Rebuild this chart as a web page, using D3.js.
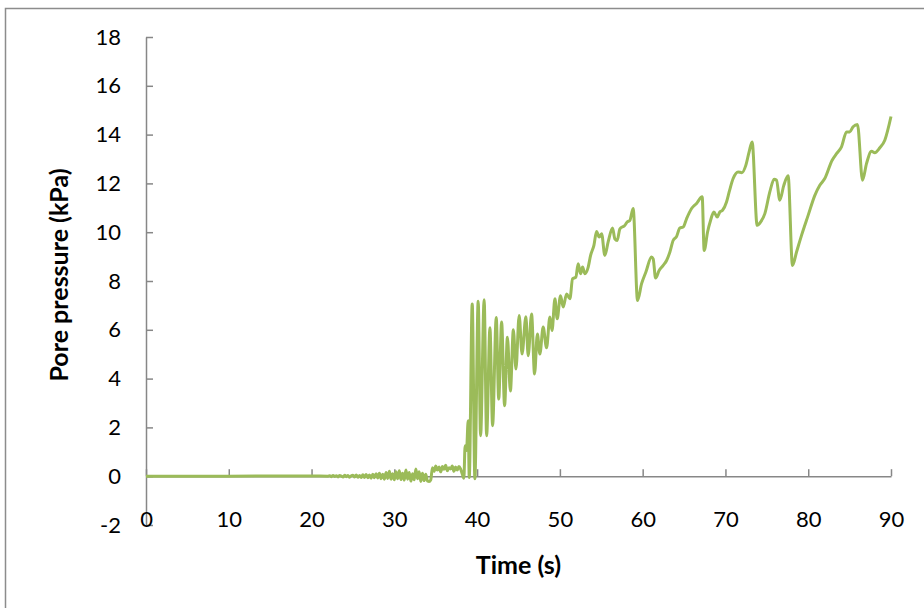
<!DOCTYPE html>
<html>
<head>
<meta charset="utf-8">
<script src="https://cdn.jsdelivr.net/npm/d3@7/dist/d3.min.js"></script>
<style>
  html, body { margin: 0; padding: 0; background: #fff; }
  svg { display: block; }
  .tick text { font-family: Lato, "Open Sans", sans-serif; font-size: 22px; fill: #000; }
  .axis-title { font-family: Lato, "Open Sans", sans-serif; font-size: 25px; font-weight: bold; fill: #000; }
</style>
</head>
<body>
<script>
// Pore pressure record, time in seconds and pressure in kPa
const quietTimes = [0, 10, 20];
const quietValues = [0, 0, 0.01];

// low-level fluctuation sampled every 0.2 s from 22 s
const noiseStart = 22;
const noiseStep = 0.2;
const noiseValues = [
  0, 0.02, -0.02, 0.03, -0.01, 0.02, -0.03, 0.03, 0, -0.03, 0.04,
  -0.02, 0.03, -0.04, 0.02, 0.04, -0.03, 0.05, -0.04, 0.03, -0.05,
  0.06, -0.05, 0.07, -0.06, 0.05, -0.08, 0.08, -0.06, 0.1, -0.07,
  0.12, -0.1, 0.08, -0.12, 0.15, -0.09, 0.2, -0.12, 0.1, -0.15, 0.18, -0.1, 0.22, -0.14, 0.12,
  -0.16, 0.25, -0.12, 0.15, -0.2, 0.1, -0.15, 0.3, -0.1, 0.18, -0.22, 0.12, -0.18, 0.08, -0.2,
  -0.22, -0.15,
  0.35, 0.2, 0.42, 0.25, 0.38, 0.18, 0.4, 0.28, 0.45, 0.22, 0.35, 0.3, 0.42, 0.2, 0.38, 0.25, 0.4, 0.3,
  0.1, -0.08
];

// shaking and build-up phase
const eventTimes = [
  38.55, 38.72, 38.92, 39.05, 39.41, 39.73, 40.13, 40.42, 40.85, 41.15,
  41.55, 41.87, 42.31, 42.61, 42.96, 43.32, 43.66, 44.02, 44.38, 44.69,
  45.08, 45.43, 45.89, 46.17, 46.58, 46.94, 47.28, 47.58, 47.98, 48.39,
  48.79, 49.05, 49.40, 49.67, 50.08, 50.40, 50.81, 51.21, 51.53, 51.93,
  52.21, 52.50, 52.74, 53.02, 53.42, 53.71, 54.11, 54.43, 54.75, 55.04,
  55.43, 55.83, 56.36, 56.64, 56.92, 57.25, 57.85, 58.13, 58.45, 58.85,
  59.38, 59.87, 60.39, 61.07, 61.27, 61.56, 61.99, 62.48, 62.89, 63.29,
  63.68, 64.09, 64.49, 64.89, 65.30, 65.91, 66.51, 67.19, 67.43, 67.84,
  68.20, 68.60, 69.00, 69.32, 69.65, 70.13, 70.45, 70.93, 71.53, 71.98,
  72.46, 72.86, 73.22, 73.83, 74.28, 74.76, 75.36, 75.88, 76.17, 76.57,
  77.05, 77.57, 78.10, 78.59, 79.19, 79.99, 80.80, 81.40, 82.00, 82.89,
  83.42, 84.02, 84.63, 85.02, 85.42, 85.95, 86.56, 87.04, 87.65, 88.04,
  88.65, 89.25, 90.00
];
const eventValues = [
  1.25, 1.05, 2.27, -0.05, 7.06, -0.1, 7.17, 1.66, 7.23, 1.66,
  6.08, 2.07, 6.50, 3.16, 6.32, 2.89, 5.69, 3.49, 6.00, 4.39,
  6.59, 5.01, 6.53, 4.94, 6.65, 4.19, 5.83, 5.01, 6.11, 5.26,
  6.52, 5.97, 7.27, 6.45, 7.40, 6.93, 7.47, 7.27, 8.09, 8.16,
  8.71, 8.30, 8.57, 8.30, 8.57, 9.05, 9.46, 10.03, 9.80, 9.94,
  9.05, 9.60, 10.17, 9.73, 9.66, 10.14, 10.28, 10.42, 10.48, 10.97,
  7.20, 7.89, 8.37, 8.98, 8.91, 8.12, 8.43, 8.64, 8.84, 9.19,
  9.66, 9.82, 10.17, 10.21, 10.55, 10.97, 11.18, 11.45, 9.25, 10.01,
  10.48, 10.83, 10.62, 10.83, 10.90, 11.24, 11.65, 12.20, 12.47, 12.44,
  12.74, 13.29, 13.70, 10.28, 10.43, 10.76, 11.65, 12.17, 12.13, 11.31,
  11.92, 12.31, 8.64, 9.19, 9.87, 10.69, 11.51, 11.92, 12.20, 12.95,
  13.22, 13.50, 14.11, 14.11, 14.32, 14.41, 12.13, 12.81, 13.32, 13.26,
  13.46, 13.77, 14.74
];

const xTicks = [0, 10, 20, 30, 40, 50, 60, 70, 80, 90];
const yTicks = [-2, 0, 2, 4, 6, 8, 10, 12, 14, 16, 18];

const data = [];
quietTimes.forEach((t, i) => data.push({ t, v: quietValues[i] }));
noiseValues.forEach((v, i) => data.push({ t: noiseStart + i * noiseStep, v }));
eventTimes.forEach((t, i) => data.push({ t, v: eventValues[i] }));

const W = 924, H = 608;
const plot = { left: 146, right: 891, top: 37, bottom: 525 };

const svg = d3.select("body").append("svg").attr("width", W).attr("height", H);

// chart frame
svg.append("rect")
  .attr("x", 5.5).attr("y", 8.5)
  .attr("width", 940).attr("height", 640)
  .attr("fill", "none").attr("stroke", "#8c8c8c").attr("stroke-width", 1.5);

const x = d3.scaleLinear().domain([0, 90]).range([plot.left, plot.right]);
const y = d3.scaleLinear().domain([-2, 18]).range([plot.bottom, plot.top]);

const axisColor = "#878787";
const plainNumber = d => String(d);

const gy = svg.append("g")
  .attr("transform", `translate(${plot.left},0)`)
  .call(d3.axisLeft(y).tickValues(yTicks).tickSizeInner(-7).tickSizeOuter(0).tickPadding(25)
    .tickFormat(plainNumber));

const gx = svg.append("g")
  .attr("transform", `translate(0,${y(0)})`)
  .call(d3.axisBottom(x).tickValues(xTicks).tickSizeInner(-7).tickSizeOuter(0).tickPadding(35)
    .tickFormat(plainNumber));

[gy, gx].forEach(g => {
  g.select(".domain").attr("stroke", axisColor).attr("stroke-width", 1.5);
  g.selectAll(".tick line").attr("stroke", axisColor).attr("stroke-width", 1.5);
});

// series
const line = d3.line()
  .x(d => x(d.t))
  .y(d => y(d.v))
  .curve(d3.curveMonotoneX);

svg.append("path")
  .datum(data)
  .attr("fill", "none")
  .attr("stroke", "#9bbb59")
  .attr("stroke-width", 3)
  .attr("stroke-linejoin", "round")
  .attr("d", line);

// axis titles
svg.append("text")
  .attr("class", "axis-title")
  .attr("transform", `translate(68,${(plot.top + plot.bottom) / 2 - 6}) rotate(-90)`)
  .attr("text-anchor", "middle")
  .text("Pore pressure (kPa)");

svg.append("text")
  .attr("class", "axis-title")
  .attr("x", (plot.left + plot.right) / 2)
  .attr("y", 574)
  .attr("text-anchor", "middle")
  .text("Time (s)");
</script>
</body>
</html>
